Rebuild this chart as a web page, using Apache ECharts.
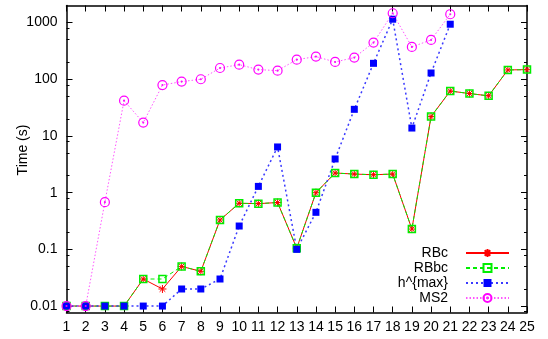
<!DOCTYPE html>
<html>
<head>
<meta charset="utf-8">
<script src="https://cdn.jsdelivr.net/npm/echarts@6/dist/echarts.min.js"></script>
<style>
  html, body { margin: 0; padding: 0; background: #fff; }
  #chart { width: 548px; height: 339px; }
</style>
</head>
<body>
<div id="chart"></div>
<script>
// instance index 1..25
var xValues = [1, 2, 3, 4, 5, 6, 7, 8, 9, 10, 11, 12, 13, 14, 15, 16, 17, 18, 19, 20, 21, 22, 23, 24, 25];
var rbc = [0.01, 0.01, 0.01, 0.01, 0.03, 0.02, 0.05, 0.041, 0.33, 0.65, 0.64, 0.67, 0.105, 1.0, 2.22, 2.13, 2.07, 2.13, 0.228, 22, 62, 56, 51, 146, 148];
var rbbc = [0.01, 0.01, 0.01, 0.01, 0.03, 0.03, 0.05, 0.041, 0.33, 0.65, 0.64, 0.67, 0.105, 1.0, 2.22, 2.13, 2.07, 2.13, 0.228, 22, 62, 56, 51, 146, 148];
var hmax = [0.01, 0.01, 0.01, 0.01, 0.01, 0.01, 0.02, 0.02, 0.03, 0.258, 1.29, 6.4, 0.1, 0.45, 3.93, 29.5, 191, 1146, 13.8, 129, 935];
var ms2 = [0.01, 0.01, 0.68, 42, 17.2, 79, 91, 100, 158, 181, 148, 142, 222, 251, 202, 241, 443, 1460, 372, 494, 1403];
var yMajorTicks = [0.01, 0.1, 1, 10, 100, 1000];
var yMinorTicks = [0.008, 0.02, 0.05, 0.08, 0.2, 0.5, 0.8, 2, 5, 8, 20, 50, 80, 200, 500, 800];

function pairs(vals) {
  var out = [];
  for (var i = 0; i < vals.length; i++) out.push([xValues[i], vals[i]]);
  return out;
}

var font = "'Liberation Sans', Arial, sans-serif";
var yMin = 0.0077, yMax = 2000;

// log y axis; major/minor ticks are drawn by separate overlaid axes
function yAx(pos, major, showLine) {
  return {
    type: "log",
    position: pos,
    min: yMin,
    max: yMax,
    logBase: 10,
    axisLine: { show: showLine, lineStyle: { color: "#000", width: 1.5 } },
    axisTick: {
      show: true,
      inside: true,
      length: major ? 6 : 3,
      customValues: major ? yMajorTicks : yMinorTicks,
      lineStyle: { color: "#000", width: 1 }
    },
    axisLabel: { show: false },
    splitLine: { show: false }
  };
}

var yLeft = yAx("left", true, true);
yLeft.axisLabel = {
  show: true,
  customValues: yMajorTicks,
  margin: 9,
  color: "#000",
  fontSize: 14,
  fontFamily: font,
  formatter: function (v) { return String(+v.toPrecision(3)); }
};
yLeft.name = "Time (s)";
yLeft.nameLocation = "middle";
yLeft.nameGap = 36;
yLeft.nameMoveOverlap = false;
yLeft.nameTextStyle = { color: "#000", fontSize: 14, fontFamily: font, padding: [0, 0, 0, 18] };

function xAx(pos, showLabel) {
  return {
    type: "value",
    position: pos,
    min: 1,
    max: 25,
    interval: 1,
    axisLine: { show: true, lineStyle: { color: "#000", width: 1.5 } },
    axisTick: { show: true, inside: true, length: 6, lineStyle: { color: "#000", width: 1 } },
    axisLabel: { show: showLabel, margin: 8, color: "#000", fontSize: 14, fontFamily: font },
    splitLine: { show: false }
  };
}

var asterisk = "path://M0,5L10,5M5,0L5,10M1.5,1.5L8.5,8.5M8.5,1.5L1.5,8.5";
var dotCircle = "path://M10,5A5,5,0,1,1,0,5A5,5,0,1,1,10,5ZM5.5,5A0.5,0.5,0,1,1,4.5,5A0.5,0.5,0,1,1,5.5,5Z";

var option = {
  animation: false,
  backgroundColor: "#fff",
  grid: { left: 66.5, right: 21, top: 5.5, bottom: 26.5, outerBoundsMode: "none", containLabel: false },
  xAxis: [xAx("bottom", true), xAx("top", false)],
  yAxis: [yLeft, yAx("left", false, false), yAx("right", true, true), yAx("right", false, false)],
  legend: {
    orient: "vertical",
    align: "right",
    right: 38,
    bottom: 34,
    padding: 0,
    itemWidth: 43,
    itemHeight: 10,
    itemGap: 1,
    textStyle: { color: "#000", fontSize: 14, fontFamily: font, padding: [0, 13, 0, 0] },
    data: ["RBc", "RBbc", "h^{max}", "MS2"]
  },
  series: [
    {
      name: "RBc",
      type: "line",
      data: pairs(rbc),
      symbol: asterisk,
      symbolSize: 8,
      color: "#ff0000",
      itemStyle: { color: "transparent", borderColor: "#ff0000", borderWidth: 1 },
      lineStyle: { color: "#ff0000", width: 1, type: "solid" }
    },
    {
      name: "RBbc",
      type: "line",
      data: pairs(rbbc),
      symbol: "rect",
      symbolSize: 7,
      color: "#00ff00",
      itemStyle: { color: "transparent", borderColor: "#00ee00", borderWidth: 1.5 },
      lineStyle: { color: "#00ee00", width: 1, type: [4, 3] }
    },
    {
      name: "h^{max}",
      type: "line",
      data: pairs(hmax),
      symbol: "rect",
      symbolSize: 7,
      color: "#0000ff",
      itemStyle: { color: "#0000ff", borderWidth: 0 },
      lineStyle: { color: "#3a3aff", width: 1.5, type: [2, 3] }
    },
    {
      name: "MS2",
      type: "line",
      data: pairs(ms2),
      symbol: dotCircle,
      symbolSize: 9,
      color: "#ff00ff",
      itemStyle: { color: "transparent", borderColor: "#ff00ff", borderWidth: 1.2 },
      lineStyle: { color: "#ff55ff", width: 1, type: [1.5, 2] }
    }
  ]
};

var chart = echarts.init(document.getElementById("chart"));
chart.setOption(option);
</script>
</body>
</html>
